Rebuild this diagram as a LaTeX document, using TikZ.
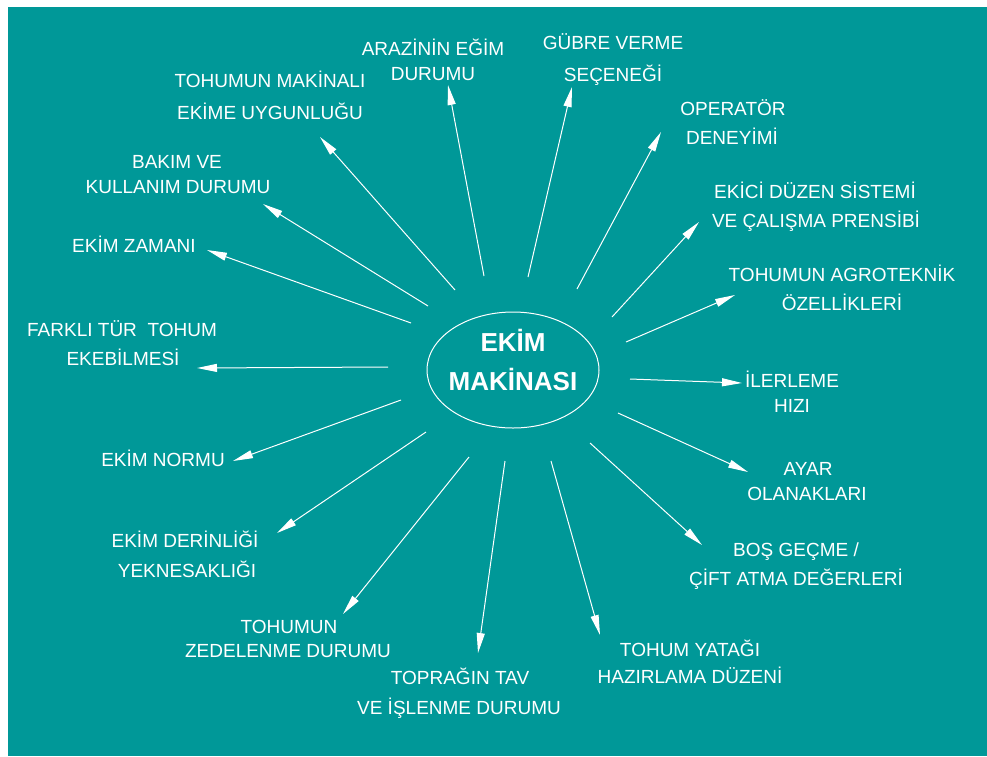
\documentclass[tikz,border=0pt]{standalone}
\usepackage{fontspec}
\setmainfont{Liberation Sans}
\usetikzlibrary{arrows.meta,shapes.geometric}
\definecolor{bg}{RGB}{0,152,152}
\begin{document}
\begin{tikzpicture}[x=1pt,y=-1pt,
 lbl/.style={anchor=base,text=white,inner sep=0pt,font=\fontsize{19}{23}\selectfont},
 ctr/.style={anchor=base,text=white,inner sep=0pt,font=\fontsize{26}{30}\selectfont\bfseries},
 arr/.style={draw=white,line width=1pt,-{Triangle[length=20pt,width=8pt]}}]
\useasboundingbox (0,0) rectangle (987,756);
\fill[white] (0,0) rectangle (987,756);
\fill[bg] (8,7) rectangle (987,756);
% centre
\node[draw=white,line width=1pt,ellipse,minimum width=172pt,minimum height=116pt,inner sep=0pt] (e) at (513,370) {};
\node[ctr] (e1) at (513,351) {EKİM};
\node[ctr] (e2) at (513,390) {MAKİNASI};
% labels
\node[lbl] (l1a) at (433,55) {ARAZİNİN EĞİM};
\node[lbl] (l1b) at (433,80) {DURUMU};
\node[lbl] (l2a) at (613,49) {GÜBRE VERME};
\node[lbl] (l2b) at (613,81) {SEÇENEĞİ};
\node[lbl] (l3a) at (270,87) {TOHUMUN MAKİNALI};
\node[lbl] (l3b) at (270,119) {EKİME UYGUNLUĞU};
\node[lbl] (l4a) at (177,168) {BAKIM VE};
\node[lbl] (l4b) at (178,193) {KULLANIM DURUMU};
\node[lbl] (l5) at (134,252) {EKİM ZAMANI};
\node[lbl] (l6a) at (122,336) {FARKLI TÜR\ \ TOHUM};
\node[lbl] (l6b) at (123,365) {EKEBİLMESİ};
\node[lbl] (l7) at (163,466) {EKİM NORMU};
\node[lbl] (l8a) at (185,547) {EKİM DERİNLİĞİ};
\node[lbl] (l8b) at (187,577) {YEKNESAKLIĞI};
\node[lbl] (l9a) at (289,633) {TOHUMUN};
\node[lbl] (l9b) at (288,657) {ZEDELENME DURUMU};
\node[lbl] (l10a) at (460,684) {TOPRAĞIN TAV};
\node[lbl] (l10b) at (459,714) {VE İŞLENME DURUMU};
\node[lbl] (l11a) at (690,656) {TOHUM YATAĞI};
\node[lbl] (l11b) at (690,683) {HAZIRLAMA DÜZENİ};
\node[lbl] (l12a) at (796,556) {BOŞ GEÇME /};
\node[lbl] (l12b) at (796,585) {ÇİFT ATMA DEĞERLERİ};
\node[lbl] (l13a) at (808,475) {AYAR};
\node[lbl] (l13b) at (807,500) {OLANAKLARI};
\node[lbl] (l14a) at (792,387) {İLERLEME};
\node[lbl] (l14b) at (792,412) {HIZI};
\node[lbl] (l15a) at (842,281) {TOHUMUN AGROTEKNİK};
\node[lbl] (l15b) at (842,310) {ÖZELLİKLERİ};
\node[lbl] (l16a) at (815,198) {EKİCİ DÜZEN SİSTEMİ};
\node[lbl] (l16b) at (816,227) {VE ÇALIŞMA PRENSİBİ};
\node[lbl] (l17a) at (733,115) {OPERATÖR};
\node[lbl] (l17b) at (732,144) {DENEYİMİ};
% arrows
\foreach \i/\sx/\sy/\tx/\ty in {
 1/484/276/448/85, 2/528/277/572/87, 3/455/290/320/137, 4/428/306/263/204,
 5/411/323/207/250, 6/388/367/197/368, 7/401/400/233/461, 8/426/432/277/533,
 9/469/457/343/614, 10/505/461/478/653, 11/551/461/600/635, 12/590/443/702/545,
 13/618/413/748/472, 14/630/379/742/383, 15/626/342/735/295, 16/612/317/699/222,
 17/577/289/661/132}{
 \coordinate (s\i) at (\sx,\sy);
 \coordinate (t\i) at (\tx,\ty);
 \draw[arr] (s\i) -- (t\i);
}
\end{tikzpicture}
\end{document}
